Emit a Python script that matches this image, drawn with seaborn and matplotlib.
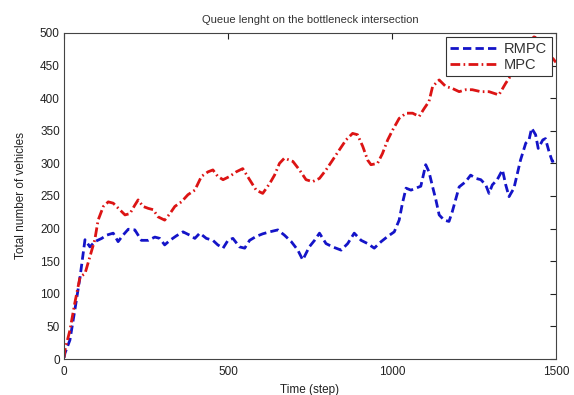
import matplotlib
matplotlib.use("Agg")
import matplotlib.pyplot as plt
import seaborn as sns
import pandas as pd
import numpy as np

title = "Queue lenght on the bottleneck intersection"
xlabel = "Time (step)"
ylabel = "Total number of vehicles"

rmpc_t = [0, 3, 18, 33, 49, 64, 79, 94, 115, 130, 150, 165, 180, 196, 216, 236, 257, 277, 292, 307,
          323, 343, 363, 383, 399, 414, 434, 454, 469, 485, 500, 515, 535, 551, 566, 586, 606, 627,
          652, 672, 693, 713, 728, 748, 764, 779, 799, 819, 845, 865, 885, 906, 926, 946, 967, 987,
          1007, 1022, 1032, 1043, 1058, 1073, 1088, 1098, 1103, 1113, 1124, 1134, 1144, 1159, 1174,
          1184, 1195, 1205, 1225, 1240, 1256, 1271, 1286, 1296, 1306, 1321, 1337, 1347, 1357, 1372,
          1392, 1408, 1418, 1426, 1438, 1446, 1460, 1468, 1479, 1489, 1500]
rmpc_v = [2, 9, 29, 75, 126, 183, 172, 180, 185, 190, 193, 180, 190, 199, 198, 182, 182, 187, 185, 175,
          182, 189, 195, 190, 185, 193, 185, 182, 175, 170, 182, 185, 172, 170, 182, 188, 192, 195,
          198, 190, 180, 167, 152, 172, 182, 193, 177, 172, 167, 177, 193, 182, 177, 170, 180, 188,
          195, 213, 239, 262, 259, 262, 265, 287, 298, 287, 264, 244, 221, 213, 211,
          226, 246, 264, 272, 282, 277, 275, 267, 254, 267, 275, 290, 267, 249, 262,
          305, 331, 336, 354, 344, 323, 336, 338, 318, 303, 305]

mpc_t = [0, 3, 18, 33, 49, 64, 79, 94, 104, 120, 135, 150, 170, 186, 201, 216, 226, 241, 257, 272,
         287, 307, 323, 338, 358, 378, 399, 419, 439, 454, 469, 485, 505, 525, 545, 566, 586, 606,
         627, 642, 657, 672, 698, 718, 738, 758, 779, 799, 819, 840, 860, 880, 895, 911, 926, 936,
         956, 971, 987, 1002, 1022, 1043, 1063, 1083, 1098, 1113, 1124, 1144, 1164, 1184, 1205,
         1225, 1245, 1271, 1296, 1326, 1347, 1367, 1382, 1400, 1420, 1433, 1445, 1460, 1479, 1489, 1500]
mpc_v = [2, 14, 44, 86, 126, 131, 157, 183, 213, 234, 241, 239, 229, 221, 223, 236, 244, 234, 231, 229,
         218, 213, 223, 234, 241, 252, 259, 280, 287, 290, 280, 275, 280, 287, 292, 275, 259, 254,
         269, 282, 300, 308, 303, 290, 275, 272, 277, 290, 305, 321, 336, 346, 344, 326, 305, 298,
         300, 315, 336, 351, 369, 377, 377, 372, 384, 395, 418, 428, 418, 415, 410,
         413, 413, 410, 410, 405, 423, 438, 453, 472, 487, 494, 492, 485, 472, 462, 455]

df_r = pd.DataFrame({"t": rmpc_t, "v": rmpc_v})
df_m = pd.DataFrame({"t": mpc_t, "v": mpc_v})

sns.set_style("white")
plt.rcParams["font.family"] = ["Liberation Sans", "DejaVu Sans"]

fig = plt.figure(figsize=(5.74, 3.95), dpi=100)
ax = fig.add_axes([0.1115, 0.0911, 0.857, 0.8254])

sns.lineplot(data=df_r, x="t", y="v", ax=ax, color="#1414c8", linewidth=2.0,
             label="RMPC", estimator=None, sort=False)
sns.lineplot(data=df_m, x="t", y="v", ax=ax, color="#dc1414", linewidth=2.0,
             label="MPC", estimator=None, sort=False)
ax.lines[0].set_dashes([3.0, 1.5])
ax.lines[1].set_dashes([3.5, 1.2, 0.6, 1.2])

ax.set_xlim(0, 1500)
ax.set_ylim(0, 500)
ax.set_xticks([0, 500, 1000, 1500])
ax.set_yticks(np.arange(0, 501, 50))
ax.tick_params(direction="in", length=4, width=0.8, labelsize=8.5, top=True, right=True,
               colors="#222222", labelcolor="#222222")
ax.tick_params(axis="x", pad=5)
ax.tick_params(axis="y", pad=3)
for s in ax.spines.values():
    s.set_color("#444444")
    s.set_linewidth(0.8)
    s.set_visible(True)

ax.set_title(title, fontsize=8, color="#333333", pad=7)
ax.set_xlabel(xlabel, fontsize=8.5, color="#222222", labelpad=4)
ax.set_ylabel(ylabel, fontsize=8.5, color="#222222", labelpad=9)

leg = ax.legend(loc="upper right", fontsize=10.5, frameon=True, fancybox=False,
                handlelength=3.2, borderpad=0.3, labelspacing=0.15, handletextpad=0.5,
                borderaxespad=0.3)
leg.get_frame().set_edgecolor("#333333")
leg.get_frame().set_linewidth(0.8)
leg.get_frame().set_alpha(1)
leg._legend_box.sep = 0
for t in leg.get_texts():
    t.set_color("#333333")

fig.savefig("out.png", dpi=100)
